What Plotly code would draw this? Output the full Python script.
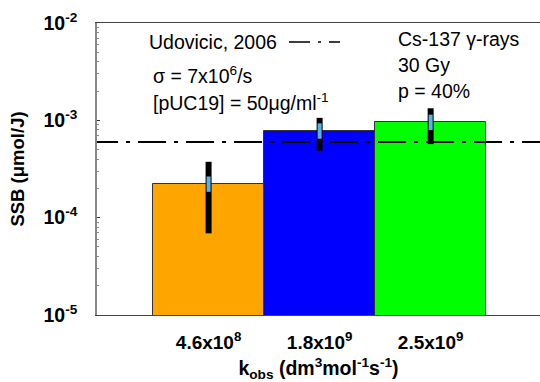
import plotly.graph_objects as go

# ---- data ----
categories = ["4.6x10<sup>8</sup>", "1.8x10<sup>9</sup>", "2.5x10<sup>9</sup>"]
ssb_values = [2.21e-4, 7.76e-4, 9.53e-4]
err_upper = [3.75e-4, 1.06e-3, 1.33e-3]
err_lower = [6.9e-5, 4.87e-4, 5.7e-4]
bar_colors = ["#FFA500", "#0000FF", "#00FF00"]
ref_value = 6.0e-4  # Udovicic, 2006
ytick_vals = [1e-5, 1e-4, 1e-3, 1e-2]
ytick_text = ["10<sup>-5</sup>", "10<sup>-4</sup>", "10<sup>-3</sup>", "10<sup>-2</sup>"]

xpos = list(range(len(categories)))
W, H = 540, 382
L, T, B = 97, 23, 67
PW = W - L
PH = H - T - B

def px(x):
    return (x - L) / PW

def py(y):
    return (H - B - y) / PH

FAM = "Liberation Sans, Arial"
font_ann = dict(family=FAM, size=19.5, color="black")

fig = go.Figure()
fig.add_trace(go.Bar(
    x=xpos, y=ssb_values, width=1.0,
    marker=dict(color=bar_colors, line=dict(color="#333333", width=1)),
    showlegend=False,
))
fig.add_trace(go.Scatter(
    x=[-1.5, 3.5], y=[ref_value, ref_value], mode="lines",
    line=dict(color="black", width=2, dash="28px,8px,4px,8px"),
    showlegend=False,
))
fig.add_trace(go.Scatter(
    x=xpos, y=ssb_values, mode="markers",
    marker=dict(symbol="line-ns", size=11, color="#5AB0E8",
                line=dict(color="#5AB0E8", width=4)),
    error_y=dict(type="data", symmetric=False,
                 array=[u - v for u, v in zip(err_upper, ssb_values)],
                 arrayminus=[v - l for v, l in zip(ssb_values, err_lower)],
                 color="black", thickness=6, width=0),
    showlegend=False,
))

fig.update_layout(
    width=W, height=H,
    margin=dict(l=L, r=0, t=T, b=B),
    plot_bgcolor="white", paper_bgcolor="white",
    bargap=0,
    xaxis=dict(range=[-1.005, 2.985], tickvals=xpos, ticktext=categories,
               automargin=False,
               showgrid=False, zeroline=False, showline=True, linecolor="#444444",
               linewidth=1, mirror=True, ticks="inside", ticklen=3, tickcolor="#777777",
               tickfont=dict(family=FAM, size=19, color="black", weight="bold"),
               ticklabelstandoff=10,
               layer="below traces",
               title=dict(text="k<sub>obs</sub> (dm<sup>3</sup>mol<sup>-1</sup>s<sup>-1</sup>)",
                          font=dict(family=FAM, size=19.5, color="black", weight="bold"),
                          standoff=22)),
    yaxis=dict(type="log", range=[-5, -2], tickvals=ytick_vals, ticktext=ytick_text,
               automargin=False,
               showgrid=False, zeroline=False, showline=True, linecolor="#888888",
               linewidth=1.5, ticks="inside", ticklen=3, tickcolor="#333333",
               minor=dict(ticks="inside", ticklen=2, tickcolor="#888888", showgrid=False,
                          tickvals=[k * 10 ** e for e in (-5, -4, -3) for k in range(2, 10)]),
               tickfont=dict(family=FAM, size=19.5, color="black", weight="bold"),
               ticklabelstandoff=14,
               layer="below traces",
               title=dict(text="SSB (\u03bcmol/J)",
                          font=dict(family=FAM, size=18.5, color="black", weight="bold"),
                          standoff=14)),
)

anns = [
    ("Udovicic, 2006", 147, 42),
    ("\u03c3 = 7x10<sup>6</sup>/s", 151, 75),
    ("[pUC19] = 50\u03bcg/ml<sup>-1</sup>", 151, 102),
    ("Cs-137 \u03b3-rays", 396, 39),
    ("30 Gy", 396, 65),
    ("p = 40%", 396, 91),
]
for text, x, y in anns:
    fig.add_annotation(text=text, x=px(x), y=py(y), xref="paper", yref="paper",
                       xanchor="left", yanchor="middle", showarrow=False, font=font_ann)

fig.add_shape(type="line", xref="paper", yref="paper",
              x0=px(289), x1=px(340), y0=py(42), y1=py(42),
              line=dict(color="black", width=1.5, dash="21px,8px,3px,8px"))

fig.write_html("out.html", post_script="document.body.style.margin='0px';",
               config={"displayModeBar": False})
